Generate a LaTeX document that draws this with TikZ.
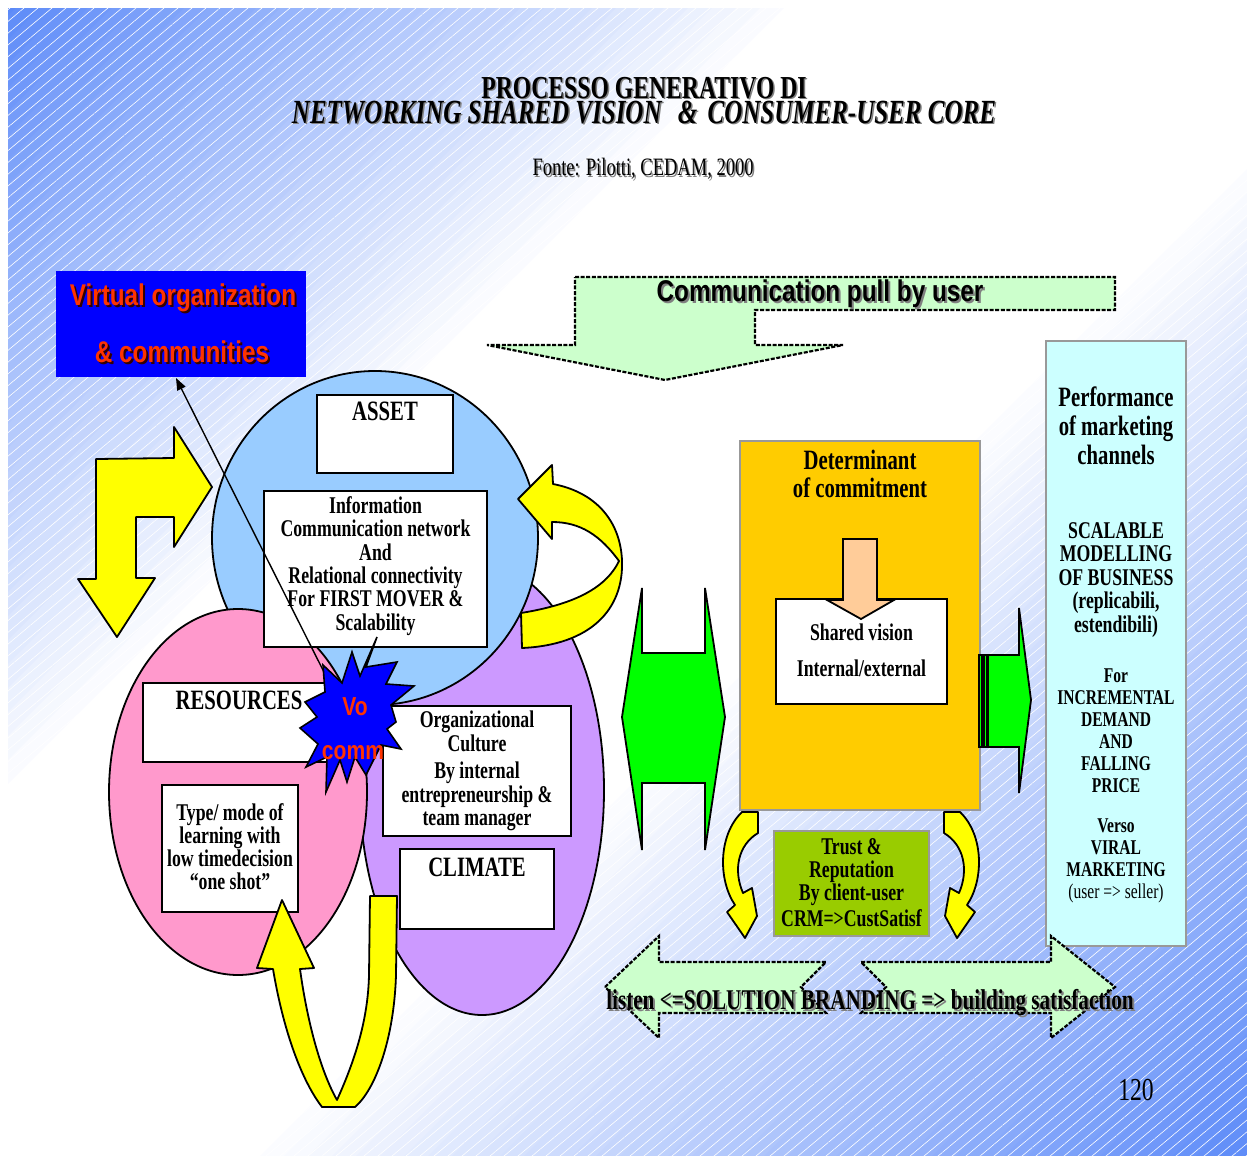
\documentclass[tikz,border=0pt]{standalone}
\usepackage{fontspec}
\setmainfont{Liberation Serif}
\newfontfamily\tnr[FakeStretch=0.74]{Liberation Serif}
\newfontfamily\ari[FakeStretch=0.81]{Liberation Sans}
\usetikzlibrary{arrows.meta,patterns.meta}
\definecolor{bgblue}{RGB}{92,138,248}
\definecolor{vblue}{RGB}{0,0,255}
\definecolor{vred}{RGB}{255,51,0}
\definecolor{lgreen}{RGB}{204,255,204}
\definecolor{ablue}{RGB}{153,204,255}
\definecolor{apink}{RGB}{255,153,204}
\definecolor{apurple}{RGB}{204,153,255}
\definecolor{ayellow}{RGB}{255,255,0}
\definecolor{agreen}{RGB}{0,255,0}
\definecolor{aorange}{RGB}{255,204,0}
\definecolor{apeach}{RGB}{255,204,153}
\definecolor{aolive}{RGB}{153,204,0}
\definecolor{acyan}{RGB}{204,255,255}
\begin{document}
\begin{tikzpicture}[x=0.5pt,y=-0.5pt,
  box/.style={draw=black, fill=white, line width=0.9pt, inner sep=0pt},
  gbox/.style={draw=gray!80, line width=0.6pt, inner sep=0pt},
  tt/.style={font=\tnr\bfseries\fontsize{12}{11.7}\selectfont, align=center, inner sep=0pt},
  tth/.style={font=\tnr\bfseries\fontsize{14}{14}\selectfont, align=center, inner sep=0pt},
  ell/.style={draw=black, line width=0.9pt},
  yar/.style={fill=ayellow, draw=black, line width=0.9pt, line join=round},
  gar/.style={fill=agreen, draw=black, line width=0.9pt},
  dar/.style={fill=lgreen, draw=black, line width=1.1pt, dash pattern=on 2pt off 0.8pt},
  ttl/.style={font=\tnr\bfseries\fontsize{16}{12.5}\selectfont, align=center, inner sep=0pt},
  ars/.style={font=\ari\bfseries\fontsize{15}{15}\selectfont, inner sep=0pt}
]
\useasboundingbox (0,0) rectangle (1247,1156);
\fill[white] (0,0) rectangle (1247,1156);
\begin{scope}
\clip (8,9) rectangle (1247,1156);
\foreach \c in {0,24,...,2424} {
  \pgfmathsetmacro{\p}{\c/2403}
  \pgfmathsetmacro{\b}{min(100,max(0,100*(1-\p/0.33),100*(\p-0.58)/0.42))}
  \fill[bgblue!\b!white] (\c,0) -- (\c+25,0) -- (\c+25-1200,1200) -- (\c-1200,1200) -- cycle;
}
\fill[pattern={Lines[angle=40,distance=4.5pt,line width=0.3pt]}, pattern color=white, fill opacity=0.12] (8,9) rectangle (1247,1156);
\end{scope}

% title
\node[ttl, text=gray] (ts) at (645.5,102) {PROCESSO GENERATIVO DI\\{\itshape\fontsize{16.9}{12.5}\selectfont NETWORKING SHARED VISION\hspace{5pt} \&\hspace{2pt} CONSUMER-USER CORE}};
\node[ttl] (title) at (644,100.5) {PROCESSO GENERATIVO DI\\{\itshape\fontsize{16.9}{12.5}\selectfont NETWORKING SHARED VISION\hspace{5pt} \&\hspace{2pt} CONSUMER-USER CORE}};
\node[font=\tnr\fontsize{12.5}{12}\selectfont, inner sep=0pt, text=gray] (fonts) at (644.5,170.5) {Fonte: Pilotti, CEDAM, 2000};
\node[font=\tnr\fontsize{12.5}{12}\selectfont, inner sep=0pt] (fonte) at (643,169) {Fonte: Pilotti, CEDAM, 2000};

% communication pull arrow
\draw[dar] (575,277) -- (1115,277) -- (1115,310) -- (755,310) -- (755,345) -- (843,345) -- (665,380) -- (487,345) -- (575,345) -- cycle;
\node[ars, text=gray] (cps) at (822,296) {Communication pull by user};
\node[ars] (cp) at (820,294) {Communication pull by user};

% virtual organization box
\node[fill=vblue, inner sep=0pt, minimum width=125pt, minimum height=53pt] (vbox) at (181,324) {};
\node[ars, text=black!80!red] (v1s) at (185,300) {Virtual organization};
\node[ars, text=vred] (v1) at (183,298) {Virtual organization};
\node[ars, text=black!80!red] (v2s) at (184,354) {\& communities};
\node[ars, text=vred] (v2) at (182,352) {\& communities};

% yellow bent double arrow
\draw[yar] (96,459) -- (174,458) -- (174,427) -- (212,487) -- (174,547) -- (174,517) -- (136,517) -- (136,578) -- (155,578) -- (117,637) -- (78,579) -- (96,579) -- cycle;

% ellipses
\draw[ell, fill=apurple] (482,790) ellipse [x radius=122, y radius=225];
\draw[ell, fill=ablue] (375,538) ellipse [x radius=163, y radius=167];
\draw[ell, fill=apink] (238,792) ellipse [x radius=129, y radius=183];

% boxes
\node[box, minimum width=68pt, minimum height=39pt] (asset) at (385,434) {};
\node[tth] (assett) at (385,411) {ASSET};
\node[box, minimum width=111.5pt, minimum height=78pt] (info) at (375.5,569) {};
\node[tt] (infot) at (375.5,566) {Information\\Communication network\\And\\Relational connectivity\\For FIRST MOVER \&\\Scalability};
\node[box, minimum width=96pt, minimum height=39.5pt] (res) at (239,722.5) {};
\node[tth] (rest) at (239,700) {RESOURCES};
\node[box, minimum width=68pt, minimum height=63.5pt] (type) at (230,848.5) {};
\node[tt, font=\tnr\bfseries\fontsize{12}{11.5}\selectfont] (typet) at (230,847) {Type/ mode of\\learning with\\low timedecision\\“one shot”};
\node[box, minimum width=94pt, minimum height=65pt] (org) at (477,771) {};
\node[tt] (orgt) at (477,771) {Organizational\\Culture\\[2pt]By internal\\entrepreneurship \&\\team manager};
\node[box, minimum width=77pt, minimum height=40pt] (clim) at (477,889) {};
\node[tth] (climt) at (477,867) {CLIMATE};

% right curved yellow arrow
\draw[yar] (518,499) -- (552,465) -- (553,484) .. controls (595,492) and (620,520) .. (622,560) .. controls (624,610) and (590,645) .. (522,648) -- (521,613) .. controls (570,605) and (605,590) .. (619,561) .. controls (600,535) and (580,522) .. (552,522) -- (552,539) -- cycle;

% U arrow
\draw[yar] (370,896) -- (397,896) -- (396,975) .. controls (394,1040) and (375,1090) .. (355,1107) -- (322,1107) .. controls (305,1085) and (285,1040) .. (273,969) -- (257,968) -- (282,900) -- (314,968) -- (300,969) .. controls (307,1020) and (320,1070) .. (337,1100) .. controls (355,1060) and (368,1020) .. (369,975) -- cycle;

% connector star -> virtual box
\coordinate (ls) at (333,690);
\coordinate (vtip) at (176,378);
\draw[line width=0.7pt, -{Triangle[length=6pt,width=4.5pt]}] (ls) -- (vtip);

% star
\draw[fill=vblue, draw=black, line width=0.8pt] (377,637) -- (366,667) -- (397,662) -- (386,684) -- (414,686) -- (391,705) -- (396,722) -- (387,729) -- (401,749) -- (381,745) -- (366,775) -- (355,757) -- (347,782) -- (340,760) -- (326,792) -- (327,757) -- (306,767) -- (318,744) -- (300,728) -- (317,717) -- (305,702) -- (325,692) -- (323,665) -- (342,683) -- (352,652) -- (360,676) -- cycle;
\node[font=\ari\bfseries\fontsize{13}{13}\selectfont, text=vred, inner sep=0pt] (vo) at (355,707) {Vo};
\node[font=\ari\bfseries\fontsize{13}{13}\selectfont, text=vred, inner sep=0pt] (comm) at (353,753) {comm};

% green double arrow
\draw[gar] (642,588) -- (642,653) -- (705,653) -- (705,588) -- (725,717) -- (705,850) -- (705,783) -- (642,783) -- (642,850) -- (622,717) -- cycle;

% orange box
\node[gbox, fill=aorange, minimum width=120pt, minimum height=184.5pt] (det) at (860,625.5) {};
\node[tth] (dett) at (860,474) {Determinant\\of commitment};
\node[box, minimum width=85.5pt, minimum height=52.5pt] (shv) at (861.5,651.5) {};
\draw[fill=apeach, draw=black, line width=0.9pt] (843,539) -- (877,539) -- (877,600) -- (894,600) -- (861,619) -- (827,600) -- (843,600) -- cycle;
\node[tt, font=\tnr\bfseries\fontsize{12}{18}\selectfont] (shvt) at (861.5,650) {Shared vision\\Internal/external};

% trust box
\node[gbox, fill=aolive, minimum width=77.5pt, minimum height=52.5pt] (trust) at (851.5,883.5) {};
\node[tt, font=\tnr\bfseries\fontsize{12}{11.5}\selectfont] (trustt) at (851.5,883) {Trust \&\\Reputation\\By client-user\\[1.5pt]CRM=>CustSatisf};

% small curved arrows
\draw[yar] (758,812) -- (758,833) .. controls (738,845) and (733,870) .. (743,893) -- (752,888) -- (757,916) -- (745,938) -- (727,912) -- (735,905) .. controls (718,880) and (718,835) .. (742,812) -- cycle;
\draw[yar] (944,812) -- (944,833) .. controls (964,845) and (969,870) .. (959,893) -- (950,888) -- (945,916) -- (957,938) -- (975,912) -- (967,905) .. controls (984,880) and (984,835) .. (960,812) -- cycle;

% right striped green arrow
\draw[gar] (979,655) rectangle (982,747);
\draw[gar] (984,655) rectangle (987,747);
\draw[gar] (988,655) -- (1019,655) -- (1019,608) -- (1031,700) -- (1019,793) -- (1019,747) -- (988,747) -- cycle;

% cyan box
\node[gbox, fill=acyan, minimum width=70pt, minimum height=302.5pt] (cyan) at (1116,643.5) {};
\node[tth, font=\tnr\bfseries\fontsize{14}{14.5}\selectfont] (perf) at (1116,426) {Performance\\of marketing\\channels};
\node[tt, font=\tnr\bfseries\fontsize{12}{11.8}\selectfont] (scal) at (1116,580) {SCALABLE\\MODELLING\\OF BUSINESS\\(replicabili,\\estendibili)};
\node[tt, font=\tnr\bfseries\fontsize{10.5}{11}\selectfont] (incr) at (1116,731) {For\\INCREMENTAL\\DEMAND\\AND\\FALLING\\PRICE};
\node[tt, font=\tnr\bfseries\fontsize{10.5}{11}\selectfont] (vers) at (1116,861) {Verso\\VIRAL\\MARKETING\\{\mdseries(user => seller)}};

% bottom arrows
\draw[dar] (605,987) -- (659,936) -- (659,962) -- (826,962) -- (801,987) -- (826,1013) -- (659,1013) -- (659,1038) -- cycle;
\draw[dar] (861,962) -- (1051,962) -- (1051,936) -- (1115,987) -- (1051,1038) -- (1051,1013) -- (861,1013) -- (886,987) -- cycle;
\node[tth, font=\tnr\bfseries\fontsize{14.3}{14}\selectfont, text=gray] (lists) at (872,1004.5) {listen <=SOLUTION BRANDING => building satisfaction};
\node[tth, font=\tnr\bfseries\fontsize{14.3}{14}\selectfont] (list) at (870,1003) {listen <=SOLUTION BRANDING => building satisfaction};

\node[font=\tnr\fontsize{16}{16}\selectfont, inner sep=0pt] (pg) at (1136,1090) {120};
\end{tikzpicture}
\end{document}
